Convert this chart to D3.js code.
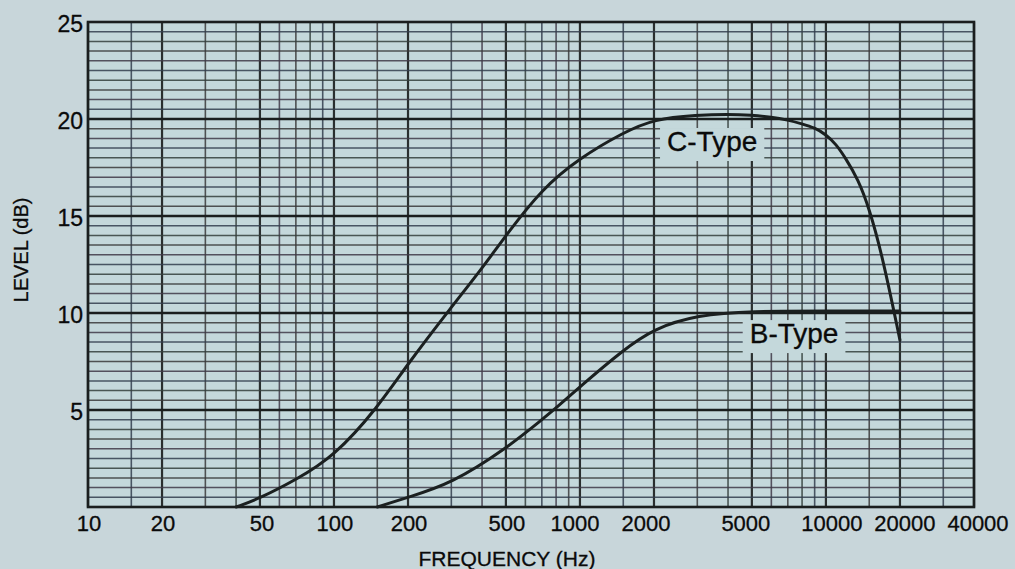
<!DOCTYPE html>
<html>
<head>
<meta charset="utf-8">
<script src="https://cdn.jsdelivr.net/npm/d3@7"></script>
<style>
  html, body { margin: 0; padding: 0; background: #c8d6da; }
  svg { display: block; }
  text { font-family: "Liberation Sans", Arial, Helvetica, sans-serif; fill: #0a0a0a; stroke: #0a0a0a; stroke-width: 0.3px; }
</style>
</head>
<body>
<svg id="chart" width="1015" height="569"></svg>
<script>
// tick labels
const xTicks = [10, 20, 50, 100, 200, 500, 1000, 2000, 5000, 10000, 20000, 40000]
const xLabelNudge = [1, 1, 2, 1, 1, 1, -5, -8, -6, 6, 5, 4]
const yTicks = [5, 10, 15, 20, 25]

// grid: every decade split at these steps, every 0.5 dB across
const decades = [10, 100, 1000, 10000]
const gridSteps = [1, 1.5, 2, 3, 4, 5, 6, 7, 8, 9]
const majorFreqs = [10, 20, 50, 100, 200, 500, 1000, 2000, 5000, 10000, 20000, 40000]

// curves
const cTypeFreq = [40, 50, 70, 100, 150, 200, 300, 400, 500, 700, 1000, 1500, 2000, 3000, 4000, 5000, 6000, 7000, 8000, 9000, 10000, 11000, 12000, 13500, 15000, 17000, 20000]
const cTypeLevel = [0, 0.45, 1.4, 2.6, 5.1, 7.4, 10.3, 12.3, 14.0, 16.4, 18.0, 19.3, 20.0, 20.2, 20.25, 20.2, 20.1, 19.95, 19.75, 19.55, 19.2, 18.7, 18.0, 16.9, 15.4, 12.9, 8.6]
const bTypeFreq = [150, 200, 300, 500, 700, 800, 1000, 1500, 2000, 3000, 5000, 10000, 20000]
const bTypeLevel = [0, 0.5, 1.2, 3.0, 4.5, 5.1, 6.2, 8.1, 9.2, 9.9, 10.1, 10.1, 10.1]

const svg = d3.select("#chart")
const m = { left: 88, right: 974, top: 22, bottom: 507 }

const x = d3.scaleLog().domain([10, 40000]).range([m.left, m.right])
const y = d3.scaleLinear().domain([0, 25]).range([m.bottom, m.top])

// plot background
svg.append("rect")
  .attr("x", m.left).attr("y", m.top)
  .attr("width", m.right - m.left).attr("height", m.bottom - m.top)
  .attr("fill", "#c4d8db")

const tints = ["#34403c", "#333e4e", "#403a48", "#3a3a3a"]
const grid = svg.append("g")

// vertical lines
const vLines = []
decades.forEach(d => gridSteps.forEach(s => {
  const f = d * s
  if (f <= 40000) vLines.push(f)
}))
grid.selectAll(".v")
  .data(vLines)
  .enter()
  .append("line")
  .attr("x1", d => x(d)).attr("x2", d => x(d))
  .attr("y1", m.top).attr("y2", m.bottom)
  .attr("stroke", (d, i) => majorFreqs.includes(d) ? "#222626" : tints[i % tints.length])
  .attr("stroke-width", d => majorFreqs.includes(d) ? 2.2 : 1.6)
  .attr("stroke-opacity", d => majorFreqs.includes(d) ? 0.95 : 0.85)

// horizontal lines
const hLines = d3.range(0.5, 25, 0.5)
grid.selectAll(".h")
  .data(hLines)
  .enter()
  .append("line")
  .attr("x1", m.left).attr("x2", m.right)
  .attr("y1", d => y(d)).attr("y2", d => y(d))
  .attr("stroke", (d, i) => d % 5 === 0 ? "#1a1e1e" : tints[(i + 1) % tints.length])
  .attr("stroke-width", d => d % 5 === 0 ? 2.4 : 1.5)
  .attr("stroke-opacity", d => d % 5 === 0 ? 1 : 0.85)

// frame
svg.append("rect")
  .attr("x", m.left).attr("y", m.top)
  .attr("width", m.right - m.left).attr("height", m.bottom - m.top)
  .attr("fill", "none")
  .attr("stroke", "#1a1e1e")
  .attr("stroke-width", 2.6)

// curves
const line = d3.line()
  .x(d => x(d[0]))
  .y(d => y(d[1]))
  .curve(d3.curveBasis)

const series = [
  d3.zip(cTypeFreq, cTypeLevel),
  d3.zip(bTypeFreq, bTypeLevel)
]
svg.selectAll(".curve")
  .data(series)
  .enter()
  .append("path")
  .attr("d", line)
  .attr("fill", "none")
  .attr("stroke", "#1b2020")
  .attr("stroke-width", 3)
  .attr("stroke-linecap", "round")

// curve labels with a plain box behind them
const labels = [
  { text: "C-Type", f: 2260, level: 18.35 },
  { text: "B-Type", f: 4900, level: 8.45 }
]
labels.forEach(l => {
  const g = svg.append("g")
  const t = g.append("text")
    .attr("x", x(l.f))
    .attr("y", y(l.level))
    .style("font-size", "28px")
    .text(l.text)
  const b = t.node().getBBox()
  g.insert("rect", "text")
    .attr("x", b.x - 7).attr("y", b.y + 2)
    .attr("width", b.width + 14).attr("height", b.height + 2)
    .attr("fill", "#c4d8db")
    .attr("stroke", "none")
})

// y tick labels
svg.selectAll(".ylab")
  .data(yTicks)
  .enter()
  .append("text")
  .attr("x", m.left - 5)
  .attr("y", d => y(d) + 10)
  .attr("text-anchor", "end")
  .style("font-size", "23px")
  .text(d => d)

// x tick labels
svg.selectAll(".xlab")
  .data(xTicks)
  .enter()
  .append("text")
  .attr("x", (d, i) => x(d) + xLabelNudge[i])
  .attr("y", 531)
  .attr("text-anchor", "middle")
  .style("font-size", "22px")
  .text(d => d)

// axis titles
svg.append("text")
  .attr("x", (m.left + m.right) / 2 - 24)
  .attr("y", 566)
  .attr("text-anchor", "middle")
  .style("font-size", "21px")
  .text("FREQUENCY (Hz)")

svg.append("text")
  .attr("transform", "translate(28, 250) rotate(-90)")
  .attr("text-anchor", "middle")
  .style("font-size", "20px")
  .text("LEVEL (dB)")
</script>
</body>
</html>
